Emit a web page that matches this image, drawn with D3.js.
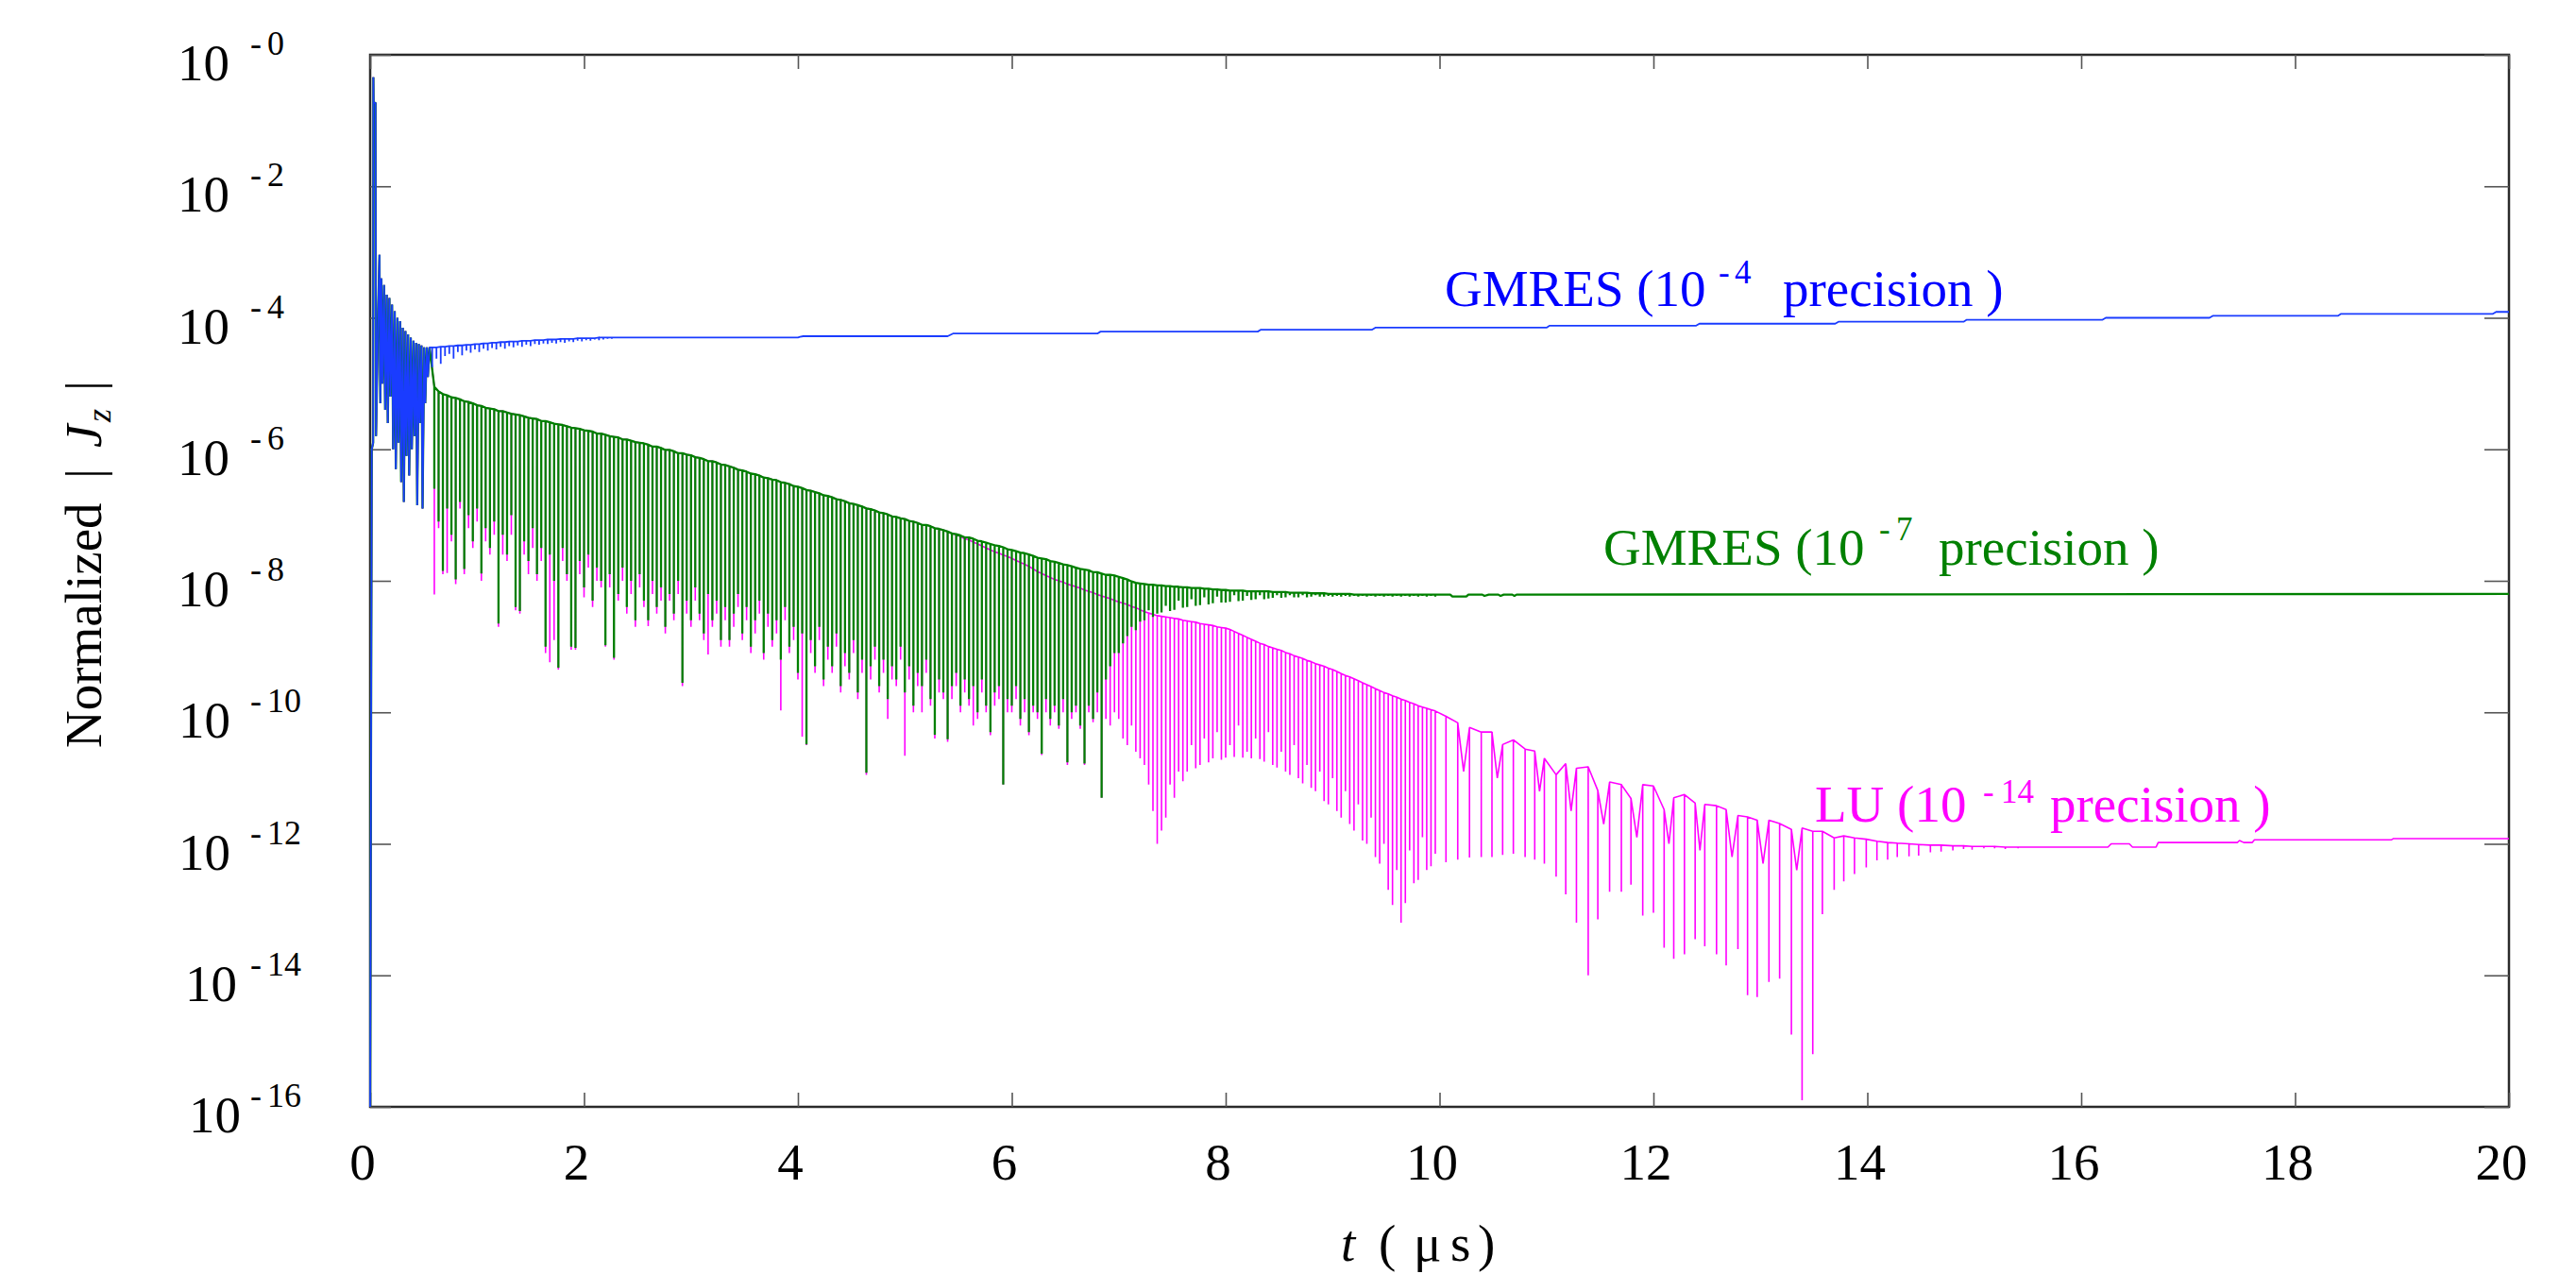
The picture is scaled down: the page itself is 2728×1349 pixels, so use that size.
<!DOCTYPE html>
<html>
<head>
<meta charset="utf-8">
<script src="https://cdn.jsdelivr.net/npm/d3@7"></script>
<style>
  html, body { margin: 0; padding: 0; background: #fff; }
  text { font-family: "Liberation Serif", "Times New Roman", serif; }
</style>
</head>
<body>
<div id="chart"></div>
<script>
// ---------------- DATA (values are log10 of normalized |Jz|) ----------------
const xTicks = [0, 2, 4, 6, 8, 10, 12, 14, 16, 18, 20];
const yTickExps = [0, -2, -4, -6, -8, -10, -12, -14, -16];

// Initial transient, common to the three solutions (t in µs)
const earlyT = [0, 0.015, 0.028, 0.03, 0.032, 0.05, 0.055, 0.075, 0.087, 0.095, 0.105, 0.115, 0.13, 0.14, 0.155, 0.165, 0.18, 0.19, 0.205, 0.215, 0.23, 0.24, 0.255, 0.265, 0.28, 0.29, 0.305, 0.315, 0.33, 0.34, 0.355, 0.365, 0.38, 0.39, 0.405, 0.415, 0.43, 0.44, 0.455, 0.465, 0.48, 0.49, 0.505, 0.515, 0.53, 0.54, 0.555];
const earlyV = [-16, -6.0, -5.9, -0.34, -0.73, -0.73, -5.8, -3.9, -3.04, -5.3, -3.4, -5.0, -3.5, -5.4, -3.65, -5.6, -3.7, -5.2, -3.8, -6.0, -3.9, -6.3, -4.0, -5.9, -4.05, -6.5, -4.15, -6.8, -4.2, -6.1, -4.25, -6.4, -4.3, -6.0, -4.35, -5.8, -4.38, -6.85, -4.4, -5.6, -4.42, -6.9, -4.45, -5.3, -4.45, -4.9, -4.45];

// GMRES 1e-4 : small comb (sampling grid 0.58 µs + 0.04 µs steps), then slowly rising plateau
const blueCombStart = 0.58, blueCombStep = 0.04;
const blueCombTop = [-4.45,-4.45,-4.44,-4.44,-4.43,-4.43,-4.42,-4.42,-4.41,-4.41,-4.40,-4.40,-4.39,-4.39,-4.38,-4.38,-4.37,-4.37,-4.36,-4.36,-4.36,-4.35,-4.35,-4.35,-4.34,-4.34,-4.34,-4.33,-4.33,-4.33,-4.32,-4.32,-4.32,-4.32,-4.31,-4.31,-4.31,-4.31,-4.31,-4.30,-4.30,-4.30,-4.30,-4.30];
const blueCombDip = [-4.75,-4.62,-4.70,-4.58,-4.55,-4.62,-4.52,-4.57,-4.50,-4.53,-4.48,-4.52,-4.47,-4.50,-4.46,-4.48,-4.44,-4.47,-4.43,-4.45,-4.42,-4.44,-4.41,-4.43,-4.40,-4.41,-4.39,-4.40,-4.38,-4.39,-4.37,-4.38,-4.36,-4.37,-4.35,-4.36,-4.34,-4.35,-4.33,-4.34,-4.33,-4.32,-4.32,-4.31];
const bluePlateauT = [2.30, 4.00, 4.02, 4.05, 5.40, 5.45, 6.80, 6.83, 8.30, 8.33, 9.37, 9.40, 11.00, 11.03, 12.40, 12.43, 13.70, 13.73, 14.90, 14.93, 16.20, 16.23, 17.20, 17.23, 18.40, 18.43, 19.85, 19.88, 20.0];
const bluePlateauV = [-4.30, -4.30, -4.29, -4.28, -4.28, -4.24, -4.24, -4.21, -4.21, -4.18, -4.18, -4.15, -4.15, -4.12, -4.12, -4.09, -4.09, -4.06, -4.06, -4.03, -4.03, -4.00, -4.00, -3.97, -3.97, -3.94, -3.94, -3.91, -3.91];

// Dense oscillation, sampling grid 0.60 µs + 0.04 µs steps (GMRES 1e-7 and LU)
const denseStart = 0.60, denseStep = 0.04;
const greenDenseTop = [
 -5.05,-5.12,-5.16,-5.18,-5.21,-5.22,-5.24,-5.27,-5.28,-5.30,
 -5.33,-5.34,-5.37,-5.38,-5.39,-5.42,-5.42,-5.44,-5.46,-5.47,
 -5.48,-5.50,-5.52,-5.53,-5.54,-5.57,-5.57,-5.59,-5.61,-5.62,
 -5.63,-5.65,-5.67,-5.68,-5.69,-5.71,-5.72,-5.73,-5.76,-5.76,
 -5.78,-5.80,-5.81,-5.82,-5.85,-5.85,-5.87,-5.89,-5.90,-5.91,
 -5.93,-5.96,-5.96,-5.98,-6.01,-6.01,-6.03,-6.06,-6.06,-6.08,
 -6.09,-6.12,-6.13,-6.15,-6.18,-6.18,-6.20,-6.23,-6.24,-6.26,
 -6.28,-6.31,-6.32,-6.34,-6.37,-6.38,-6.40,-6.43,-6.44,-6.46,
 -6.47,-6.50,-6.51,-6.53,-6.56,-6.57,-6.59,-6.62,-6.63,-6.65,
 -6.67,-6.70,-6.71,-6.73,-6.76,-6.77,-6.79,-6.82,-6.83,-6.85,
 -6.87,-6.90,-6.91,-6.93,-6.96,-6.97,-6.99,-7.02,-7.03,-7.05,
 -7.06,-7.09,-7.10,-7.12,-7.15,-7.15,-7.17,-7.20,-7.21,-7.23,
 -7.25,-7.28,-7.29,-7.31,-7.34,-7.34,-7.36,-7.39,-7.40,-7.42,
 -7.44,-7.46,-7.47,-7.49,-7.52,-7.53,-7.55,-7.57,-7.58,-7.60,
 -7.62,-7.65,-7.66,-7.67,-7.70,-7.71,-7.73,-7.75,-7.76,-7.78,
 -7.80,-7.82,-7.83,-7.84,-7.87,-7.87,-7.89,-7.91,-7.91,-7.92];
const greenDenseDip = [
 -6.6,-7.1,-7.85,-6.9,-7.3,-7.98,-6.8,-7.82,-7.0,-7.4,
 -6.9,-7.89,-7.2,-7.5,-7.1,-8.65,-7.3,-7.6,-7.0,-8.40,
 -8.46,-7.4,-7.7,-7.2,-7.9,-7.5,-9.0,-7.6,-8.0,-9.32,
 -7.5,-7.9,-9.0,-9.02,-7.7,-8.1,-7.6,-8.3,-7.8,-8.0,
 -8.98,-7.9,-9.17,-8.2,-7.8,-8.4,-8.0,-8.6,-7.9,-8.3,
 -8.6,-8.0,-8.4,-8.1,-8.7,-8.2,-8.5,-8.0,-9.55,-8.3,
 -8.6,-8.1,-8.5,-8.8,-8.2,-8.6,-8.3,-8.9,-8.4,-8.9,
 -8.5,-8.2,-8.8,-8.4,-9.0,-8.6,-8.3,-9.1,-8.5,-8.9,
 -8.6,-9.2,-8.4,-9.0,-8.7,-9.4,-8.8,-10.49,-8.9,-9.3,
 -8.7,-9.5,-9.0,-9.3,-8.8,-9.6,-9.1,-9.4,-8.9,-9.7,
 -9.2,-10.92,-9.3,-9.0,-9.6,-9.2,-9.8,-9.3,-9.5,-9.0,
 -9.7,-9.3,-9.9,-9.4,-9.6,-9.2,-9.8,-10.34,-9.5,-9.7,
 -10.41,-9.6,-9.4,-9.9,-9.5,-9.8,-9.6,-10.0,-9.5,-9.9,
 -10.3,-9.7,-9.6,-11.1,-9.8,-9.9,-9.6,-10.1,-9.8,-10.3,
 -9.9,-10.0,-10.63,-9.8,-10.1,-9.9,-10.2,-9.8,-10.76,-10.0,
 -9.9,-10.2,-10.78,-9.9,-10.1,-9.7,-11.3,-9.5,-9.3,-9.1];
// LU tops coincide with GMRES 1e-7 tops up to 5.4 µs, then fall slightly below
const pinkDenseTopLate = [
 -7.25,-7.28,-7.30,-7.33,-7.36,-7.38,-7.41,-7.44,-7.47,-7.50,
 -7.53,-7.56,-7.58,-7.61,-7.63,-7.66,-7.69,-7.72,-7.75,-7.78,
 -7.82,-7.86,-7.89,-7.92,-7.95,-7.98,-8.00,-8.02,-8.05,-8.07,
 -8.09,-8.11,-8.14,-8.16,-8.18,-8.21,-8.23,-8.25,-8.27,-8.30];
const pinkDenseDip = [
 -8.21,-7.2,-7.9,-7.88,-7.4,-8.05,-6.9,-7.9,-7.2,-7.5,
 -7.1,-8.0,-7.4,-7.6,-7.3,-8.7,-7.6,-7.7,-7.3,-8.45,
 -8.5,-7.6,-7.9,-7.5,-8.0,-7.7,-9.1,-9.24,-8.9,-9.35,
 -7.7,-8.0,-9.05,-9.05,-7.9,-8.25,-7.8,-8.4,-8.0,-8.1,
 -9.0,-8.1,-9.2,-8.3,-8.0,-8.5,-8.2,-8.7,-8.1,-8.4,
 -8.69,-8.2,-8.5,-8.3,-8.8,-8.3,-8.6,-8.2,-9.6,-8.5,
 -8.7,-8.3,-8.6,-8.9,-9.12,-8.7,-8.5,-9.0,-8.6,-9.0,
 -8.7,-8.4,-8.9,-8.6,-9.1,-8.8,-8.5,-9.2,-8.7,-9.0,
 -8.8,-9.97,-8.6,-9.1,-8.9,-9.5,-10.37,-10.5,-9.1,-9.4,
 -8.9,-9.6,-9.2,-9.4,-9.0,-9.7,-9.3,-9.5,-9.1,-9.8,
 -9.4,-10.95,-9.5,-9.2,-9.7,-9.4,-10.1,-9.5,-9.6,-9.2,
 -10.66,-9.5,-10.0,-9.6,-10.0,-9.4,-9.9,-10.4,-9.7,-9.8,
 -10.45,-9.8,-9.6,-10.0,-9.7,-9.9,-10.2,-10.1,-9.7,-10.0,
 -10.35,-9.9,-9.8,-11.1,-10.0,-10.0,-9.8,-10.2,-10.0,-10.35,
 -10.0,-10.1,-10.65,-10.0,-10.2,-10.0,-10.25,-10.0,-10.8,-10.1,
 -10.0,-10.25,-10.8,-10.0,-10.15,-10.0,-11.3,-10.1,-10.2,-10.0];

// After 7 µs, sampling grid 7.00 µs + 0.04 µs steps
const lateStart = 7.00, lateStep = 0.04;
const greenLateTop = [
 -7.94,-7.96,-7.98,-8.01,-8.03,-8.04,-8.05,-8.06,-8.06,-8.07,
 -8.07,-8.08,-8.08,-8.09,-8.09,-8.10,-8.10,-8.11,-8.11,-8.11,
 -8.12,-8.12,-8.13,-8.13,-8.14,-8.14,-8.15,-8.15,-8.15,-8.15,
 -8.16,-8.16,-8.16,-8.16,-8.16,-8.16,-8.17,-8.17,-8.17,-8.17,
 -8.18,-8.18,-8.18,-8.18,-8.18,-8.19,-8.19,-8.19,-8.19,-8.20,
 -8.20,-8.20,-8.20,-8.20,-8.20,-8.21,-8.21,-8.21,-8.21,-8.21,
 -8.21,-8.21,-8.21,-8.21,-8.21,-8.21,-8.21,-8.21,-8.21,-8.21,
 -8.21,-8.21,-8.21,-8.21,-8.21];
const greenLateDip = [
 -9.10,-8.95,-8.84,-8.70,-8.75,-8.62,-8.60,-8.45,-8.55,-8.50,
 -8.48,-8.38,-8.46,-8.44,-8.30,-8.41,-8.40,-8.28,-8.38,-8.37,
 -8.25,-8.36,-8.34,-8.24,-8.33,-8.33,-8.32,-8.22,-8.31,-8.30,
 -8.23,-8.29,-8.28,-8.22,-8.28,-8.27,-8.26,-8.22,-8.26,-8.25,
 -8.22,-8.25,-8.25,-8.22,-8.25,-8.24,-8.22,-8.24,-8.24,-8.23,
 -8.24,-8.23,-8.24,-8.23,-8.24,-8.23,-8.24,-8.23,-8.24,-8.23,
 -8.24,-8.23,-8.24,-8.23,-8.24,-8.23,-8.24,-8.23,-8.24,-8.23,
 -8.24,-8.23,-8.24,-8.23,-8.24];
const greenTailT = [10.0, 10.10, 10.12, 10.25, 10.27, 10.40, 10.42, 10.46, 10.55, 10.57, 10.60, 10.68, 10.70, 10.72, 20.0];
const greenTailV = [-8.21, -8.21, -8.24, -8.24, -8.21, -8.21, -8.23, -8.21, -8.21, -8.23, -8.21, -8.21, -8.23, -8.21, -8.20];

const pinkLateTop = [
 -8.32,-8.34,-8.36,-8.39,-8.41,-8.44,-8.47,-8.49,-8.51,-8.53,
 -8.54,-8.55,-8.56,-8.57,-8.58,-8.60,-8.61,-8.62,-8.63,-8.65,
 -8.66,-8.67,-8.68,-8.70,-8.71,-8.72,-8.74,-8.77,-8.80,-8.83,
 -8.86,-8.89,-8.92,-8.95,-8.97,-9.00,-9.02,-9.04,-9.06,-9.09,
 -9.11,-9.14,-9.16,-9.18,-9.21,-9.23,-9.26,-9.28,-9.30,-9.33,
 -9.35,-9.38,-9.41,-9.44,-9.46,-9.49,-9.52,-9.55,-9.58,-9.61,
 -9.64,-9.67,-9.70,-9.72,-9.75,-9.77,-9.80,-9.82,-9.85,-9.87,
 -9.90,-9.92,-9.94,-9.96,-9.98];
const pinkLateDip = [
 -10.1,-10.4,-10.5,-10.2,-10.6,-10.7,-10.8,-11.1,-11.5,-12.0,
 -11.8,-11.6,-11.1,-11.3,-10.9,-11.05,-10.9,-10.5,-10.85,-10.8,
 -10.4,-10.76,-10.7,-10.3,-10.72,-10.69,-10.5,-10.68,-10.2,-10.69,
 -10.6,-10.7,-10.4,-10.71,-10.75,-10.3,-10.8,-10.84,-10.6,-10.9,
 -10.95,-10.5,-11.0,-11.08,-10.8,-11.15,-11.2,-10.9,-11.35,-11.4,
 -11.0,-11.5,-11.6,-11.2,-11.7,-11.8,-11.4,-11.95,-12.0,-11.6,
 -12.2,-12.3,-12.0,-12.7,-12.93,-12.4,-13.2,-12.9,-12.1,-12.6,
 -12.55,-11.9,-12.4,-12.34,-12.15];

// LU after 10 µs: sparser spikes (explicit times), with a few intermediate zig-zag points
const pinkSparseT = [10.06,10.17,10.28,10.39,10.49,10.59,10.69,10.80,10.89,10.98,11.09,11.18,11.28,11.39,11.48,11.59,11.70,11.79,11.90,12.00,12.10,12.19,12.29,12.39,12.48,12.59,12.68,12.79,12.88,12.97,13.08,13.18,13.29,13.39,13.49,13.58,13.69,13.78,13.88,13.99,14.09,14.19,14.28,14.39,14.48,14.59,14.69,14.80,14.90,14.98,15.09,15.19,15.29,15.41];
const pinkSparseTop = [-10.06,-10.16,-10.23,-10.30,-10.30,-10.49,-10.42,-10.56,-10.59,-10.70,-10.95,-10.78,-10.85,-10.83,-11.19,-11.06,-11.10,-11.31,-11.10,-11.12,-11.48,-11.30,-11.25,-11.38,-11.40,-11.42,-11.48,-11.57,-11.59,-11.64,-11.64,-11.69,-11.78,-11.76,-11.81,-11.81,-11.91,-11.88,-11.91,-11.93,-11.96,-11.98,-11.99,-12.00,-12.01,-12.02,-12.02,-12.03,-12.03,-12.04,-12.04,-12.04,-12.05,-12.05];
const pinkSparseDip = [-12.28,-12.24,-12.21,-12.20,-12.20,-12.17,-12.15,-12.20,-12.24,-12.30,-12.50,-12.77,-13.20,-14.00,-13.15,-12.73,-12.73,-12.62,-13.09,-13.05,-13.58,-13.75,-13.68,-13.45,-13.56,-13.68,-13.85,-13.60,-14.30,-14.33,-14.10,-14.05,-14.90,-15.90,-15.20,-13.07,-12.70,-12.57,-12.46,-12.36,-12.25,-12.24,-12.20,-12.19,-12.18,-12.13,-12.12,-12.10,-12.08,-12.09,-12.07,-12.07,-12.08,-12.07];
const pinkSparseMid = [null,-10.9,null,null,-11.0,null,null,null,-11.2,null,null,-11.5,null,null,-11.7,null,null,-11.9,null,null,-12.0,null,null,-12.1,null,null,-12.2,null,null,-12.3,null,null,-12.4,null,null,null,null,null,null,null,null,null,null,null,null,null,null,null,null,null,null,null,null,null];
const pinkTailT = [15.50, 16.25, 16.28, 16.45, 16.48, 16.70, 16.72, 17.46, 17.48, 17.52, 17.60, 17.62, 18.90, 18.92, 20.0];
const pinkTailV = [-12.05, -12.05, -12.00, -12.00, -12.05, -12.05, -11.98, -11.98, -11.95, -11.98, -11.98, -11.94, -11.94, -11.92, -11.92];

// ---------------- CHART ----------------
const W = 2728, H = 1349;
const L = 392, R = 2657, T = 58, B = 1172;
const FONT = '"Liberation Serif", "Times New Roman", serif';

const svg = d3.select("#chart").append("svg").attr("width", W).attr("height", H)
  .style("background", "#fff");

const x = d3.scaleLinear().domain([0, 20]).range([L, R]);
const y = d3.scaleLog().domain([1e-16, 1]).range([B, T]);

const zipPts = (ts, vs) => ts.map((t, i) => [t, vs[i]]);
function spikePts(t0, dt, tops, dips) {
  const pts = [];
  tops.forEach((top, i) => { const t = t0 + dt * i; pts.push([t, top], [t, dips[i]], [t, top]); });
  return pts;
}
function sparsePts(ts, tops, dips, mids) {
  const pts = [];
  ts.forEach((t, i) => {
    pts.push([t, tops[i]], [t, dips[i]], [t, tops[i]]);
    if (mids[i] !== null && i < ts.length - 1) pts.push([(t + ts[i + 1]) / 2, mids[i]]);
  });
  return pts;
}

const early = zipPts(earlyT, earlyV);
const bluePts = early
  .concat(spikePts(blueCombStart, blueCombStep, blueCombTop, blueCombDip))
  .concat(zipPts(bluePlateauT, bluePlateauV));

const greenPts = early
  .concat(spikePts(denseStart, denseStep, greenDenseTop, greenDenseDip))
  .concat(spikePts(lateStart, lateStep, greenLateTop, greenLateDip))
  .concat(zipPts(greenTailT, greenTailV));

const pinkDenseTop = greenDenseTop.slice(0, 120).concat(pinkDenseTopLate);
const pinkPts = early
  .concat(spikePts(denseStart, denseStep, pinkDenseTop, pinkDenseDip))
  .concat(spikePts(lateStart, lateStep, pinkLateTop, pinkLateDip))
  .concat(sparsePts(pinkSparseT, pinkSparseTop, pinkSparseDip, pinkSparseMid))
  .concat(zipPts(pinkTailT, pinkTailV));

// Frame
svg.append("rect").attr("x", L).attr("y", T).attr("width", R - L).attr("height", B - T)
  .attr("fill", "none").attr("stroke", "#2a2a2a").attr("stroke-width", 2.5);

// Ticks (inward, on all four sides)
const tickStyle = g => { g.select(".domain").remove(); g.selectAll("line").attr("stroke", "#555").attr("stroke-width", 1.6); g.selectAll("text").remove(); };
svg.append("g").attr("transform", `translate(0,${B})`).call(d3.axisBottom(x).tickValues(xTicks).tickSize(-15).tickFormat("")).call(tickStyle);
svg.append("g").attr("transform", `translate(0,${T})`).call(d3.axisTop(x).tickValues(xTicks).tickSize(-15).tickFormat("")).call(tickStyle);
const yTickVals = yTickExps.map(e => Math.pow(10, e));
svg.append("g").attr("transform", `translate(${L},0)`).call(d3.axisLeft(y).tickValues(yTickVals).tickSize(-22).tickFormat("")).call(tickStyle);
svg.append("g").attr("transform", `translate(${R},0)`).call(d3.axisRight(y).tickValues(yTickVals).tickSize(-26).tickFormat("")).call(tickStyle);

// Curves
svg.append("clipPath").attr("id", "plotclip").append("rect")
  .attr("x", L - 1).attr("y", T).attr("width", R - L + 1).attr("height", B - T + 1);
const line = d3.line().x(d => x(d[0])).y(d => y(Math.pow(10, d[1])));
const series = [
  { pts: pinkPts, color: "#ff00ff", w: 1.6 },
  { pts: greenPts, color: "#008000", w: 2.3 },
  { pts: bluePts, color: "#1a3cff", w: 1.8 }
];
const gLines = svg.append("g").attr("clip-path", "url(#plotclip)");
series.forEach(s => {
  gLines.append("path").attr("d", line(s.pts)).attr("fill", "none")
    .attr("stroke", s.color).attr("stroke-width", s.w).attr("stroke-linejoin", "bevel");
});

// X tick labels
svg.append("g").selectAll("text").data(xTicks).join("text")
  .attr("x", d => x(d) - 8).attr("y", 1249).attr("text-anchor", "middle")
  .attr("font-size", 55).attr("font-family", FONT).attr("fill", "#000").text(d => d);

// Y tick labels: 10^-n
const yLabelEnd = { "0": 243, "-2": 243, "-4": 243, "-6": 243, "-8": 243, "-10": 244, "-12": 244, "-14": 251, "-16": 255 };
yTickExps.forEach(e => {
  const yy = y(Math.pow(10, e));
  const g = svg.append("g").attr("font-family", FONT).attr("fill", "#000");
  g.append("text").attr("x", yLabelEnd[String(e)]).attr("y", yy + 27).attr("text-anchor", "end")
    .attr("font-size", 55).text("10");
  g.append("text").attr("x", 265).attr("y", yy).attr("font-size", 36).text("-");
  g.append("text").attr("x", 283).attr("y", yy).attr("font-size", 36).text(String(Math.abs(e)));
});

// X axis title: t ( µ s)
const xt = svg.append("text").attr("y", 1335).attr("font-size", 55).attr("font-family", FONT).attr("fill", "#000");
xt.append("tspan").attr("x", 1420).attr("font-style", "italic").text("t");
xt.append("tspan").attr("x", 1460).text("(");
xt.append("tspan").attr("x", 1497).text("μ");
xt.append("tspan").attr("x", 1536).text("s");
xt.append("tspan").attr("x", 1565).text(")");

// Y axis title: Normalized |Jz|
const yt = svg.append("text").attr("transform", "translate(107,792) rotate(-90)")
  .attr("font-size", 55).attr("font-family", FONT).attr("fill", "#000");
yt.append("tspan").attr("x", 0).text("Normalized");
yt.append("tspan").attr("x", 285).text("|");
yt.append("tspan").attr("x", 318).attr("font-style", "italic").text("J");
yt.append("tspan").attr("x", 345).attr("dy", 10).attr("font-size", 36).attr("font-style", "italic").text("z");
yt.append("tspan").attr("x", 378).attr("dy", -10).text("|");

// Curve labels
function curveLabel(cfg) {
  const g = svg.append("g").attr("font-family", FONT).attr("fill", cfg.color);
  g.append("text").attr("x", cfg.x0).attr("y", cfg.base).attr("font-size", 55).text(cfg.head);
  g.append("text").attr("x", cfg.xh).attr("y", cfg.base - cfg.sup).attr("font-size", 35).text("-");
  g.append("text").attr("x", cfg.xe).attr("y", cfg.base - cfg.sup).attr("font-size", 35).text(cfg.exp);
  g.append("text").attr("x", cfg.xp).attr("y", cfg.base).attr("font-size", 55).text("precision )");
}
curveLabel({ color: "#0000ff", head: "GMRES (10", exp: "4", x0: 1530, xh: 1820, xe: 1837, xp: 1888, base: 324, sup: 24 });
curveLabel({ color: "#008000", head: "GMRES (10", exp: "7", x0: 1698, xh: 1990, xe: 2008, xp: 2053, base: 598, sup: 26 });
curveLabel({ color: "#ff00ff", head: "LU (10", exp: "14", x0: 1922, xh: 2100, xe: 2119, xp: 2171, base: 870, sup: 20 });
</script>
</body>
</html>
